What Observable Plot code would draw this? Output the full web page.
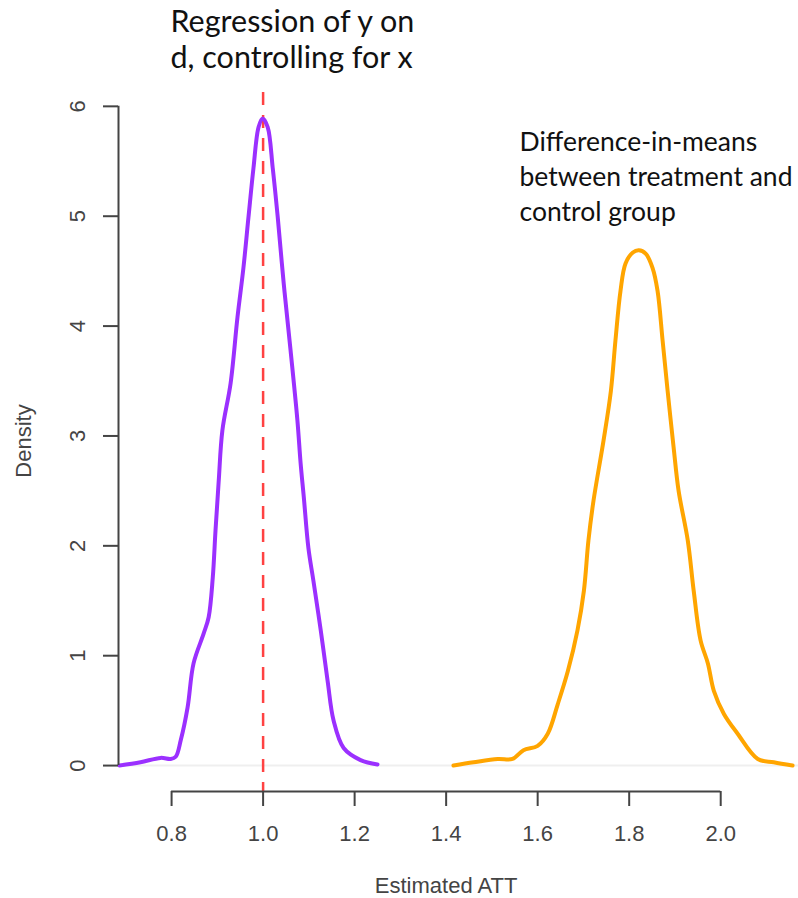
<!DOCTYPE html>
<html>
<head>
<meta charset="utf-8">
<script src="https://cdn.jsdelivr.net/npm/d3@7"></script>
<script src="https://cdn.jsdelivr.net/npm/@observablehq/plot@0.6"></script>
<style>
  html, body { margin: 0; padding: 0; background: #ffffff; }
  #chart { width: 798px; height: 898px; }
</style>
</head>
<body>
<div id="chart"></div>
<script>
// Sampling distribution of the regression estimator (y on d, controlling for x)
const regX = [0.686, 0.732, 0.776, 0.798, 0.809, 0.820, 0.835, 0.848, 0.870, 0.881, 0.890, 0.896, 0.903, 0.911,
  0.929, 0.944, 0.957, 0.968, 0.979, 0.990, 0.999, 1.010, 1.021, 1.032, 1.045, 1.060, 1.075, 1.082, 1.089,
  1.099, 1.110, 1.126, 1.141, 1.154, 1.176, 1.213, 1.250];
const regDensity = [0.00, 0.03, 0.07, 0.06, 0.08, 0.23, 0.53, 0.93, 1.20, 1.35, 1.71, 2.14, 2.59, 3.05,
  3.48, 4.08, 4.53, 4.99, 5.44, 5.81, 5.89, 5.81, 5.44, 4.99, 4.39, 3.78, 3.14, 2.75, 2.44,
  1.98, 1.68, 1.23, 0.77, 0.41, 0.16, 0.05, 0.01];

// Sampling distribution of the naive difference-in-means estimator
const dimX = [1.416, 1.460, 1.513, 1.545, 1.569, 1.600, 1.622, 1.644, 1.666, 1.687, 1.701, 1.711, 1.722,
  1.744, 1.760, 1.770, 1.781, 1.792, 1.808, 1.821, 1.836, 1.851, 1.862, 1.873, 1.884, 1.897, 1.908, 1.928,
  1.941, 1.956, 1.972, 1.985, 2.007, 2.037, 2.081, 2.116, 2.157];
const dimDensity = [0.00, 0.03, 0.06, 0.06, 0.14, 0.18, 0.29, 0.56, 0.86, 1.23, 1.59, 2.05, 2.41,
  2.96, 3.41, 3.87, 4.32, 4.57, 4.67, 4.69, 4.66, 4.53, 4.32, 3.87, 3.41, 2.90, 2.50, 2.05,
  1.59, 1.14, 0.93, 0.68, 0.47, 0.29, 0.06, 0.03, 0.00];

// True treatment effect
const trueATT = 1.0;

const xTicks = [0.8, 1.0, 1.2, 1.4, 1.6, 1.8, 2.0];
const yTicks = [0, 1, 2, 3, 4, 5, 6];

const xLabel = "Estimated ATT";
const yLabel = "Density";
const regNote = ["Regression of y on", "d, controlling for x"];
const dimNote = ["Difference-in-means", "between treatment and", "control group"];

const regCurve = regX.map((x, i) => ({x, density: regDensity[i]}));
const dimCurve = dimX.map((x, i) => ({x, density: dimDensity[i]}));

// Plot region (R-style 4% padding around the data)
const xDomain = [0.684, 2.170];
const yDomain = [-0.236, 6.126];

const axisFont = "'Liberation Sans', Arial, Helvetica, sans-serif";
const noteFont = "Lato, 'Open Sans', sans-serif";
const axisColor = "#444444";

const chart = Plot.plot({
  width: 798,
  height: 898,
  marginTop: 92,
  marginBottom: 107,
  marginLeft: 118,
  marginRight: 0,
  style: {fontFamily: axisFont, background: "#ffffff", overflow: "visible"},
  x: {domain: xDomain},
  y: {domain: yDomain},
  marks: [
    // zero baseline drawn by plot.density
    Plot.ruleY([0], {stroke: "#efefef", strokeWidth: 2}),
    // true effect
    Plot.ruleX([trueATT], {stroke: "#ff4242", strokeWidth: 2.5, strokeDasharray: "13,10"}),
    Plot.line(regCurve, {x: "x", y: "density", stroke: "#9B30FF", strokeWidth: 4, curve: "catmull-rom"}),
    Plot.line(dimCurve, {x: "x", y: "density", stroke: "#FFA500", strokeWidth: 4, curve: "catmull-rom"}),
    // axis lines spanning first to last tick
    Plot.ruleY([yDomain[0]], {x1: () => d3.min(xTicks), x2: () => d3.max(xTicks), stroke: axisColor, strokeWidth: 2}),
    Plot.ruleX([xDomain[0]], {y1: () => d3.min(yTicks), y2: () => d3.max(yTicks), stroke: axisColor, strokeWidth: 2}),
    Plot.axisX(xTicks, {anchor: "bottom", tickSize: 15, tickPadding: 19, fontSize: 22, strokeWidth: 2,
      color: axisColor, tickFormat: d3.format(".1f"), label: null}),
    Plot.axisY(yTicks, {anchor: "left", tickSize: 15, tickPadding: 19, tickRotate: -90, fontSize: 22, strokeWidth: 2,
      color: axisColor, tickFormat: d3.format("d"), label: null}),
    Plot.text([yLabel], {text: d => d, y: () => d3.mean(d3.extent(yTicks)), frameAnchor: "left", dx: -95, dy: 5,
      textAnchor: "middle", rotate: -90, fontSize: 22, fill: axisColor}),
    Plot.text([xLabel], {text: d => d, x: () => d3.mean(d3.extent(xTicks)), frameAnchor: "bottom", dy: 86,
      lineAnchor: "top", fontSize: 22, fill: axisColor}),
    // annotations
    Plot.text([regNote.join("\n")], {text: d => d, frameAnchor: "top-left", dx: 52, dy: -86,
      textAnchor: "start", lineAnchor: "top", fontFamily: noteFont, fontSize: 30.5, lineHeight: 1.18, fill: "#111"}),
    Plot.text([dimNote.join("\n")], {text: d => d, frameAnchor: "top-left", dx: 401, dy: 34,
      textAnchor: "start", lineAnchor: "top", fontFamily: noteFont, fontSize: 26.5, lineHeight: 1.32, fill: "#111"})
  ]
});

document.getElementById("chart").appendChild(chart);
</script>
</body>
</html>
